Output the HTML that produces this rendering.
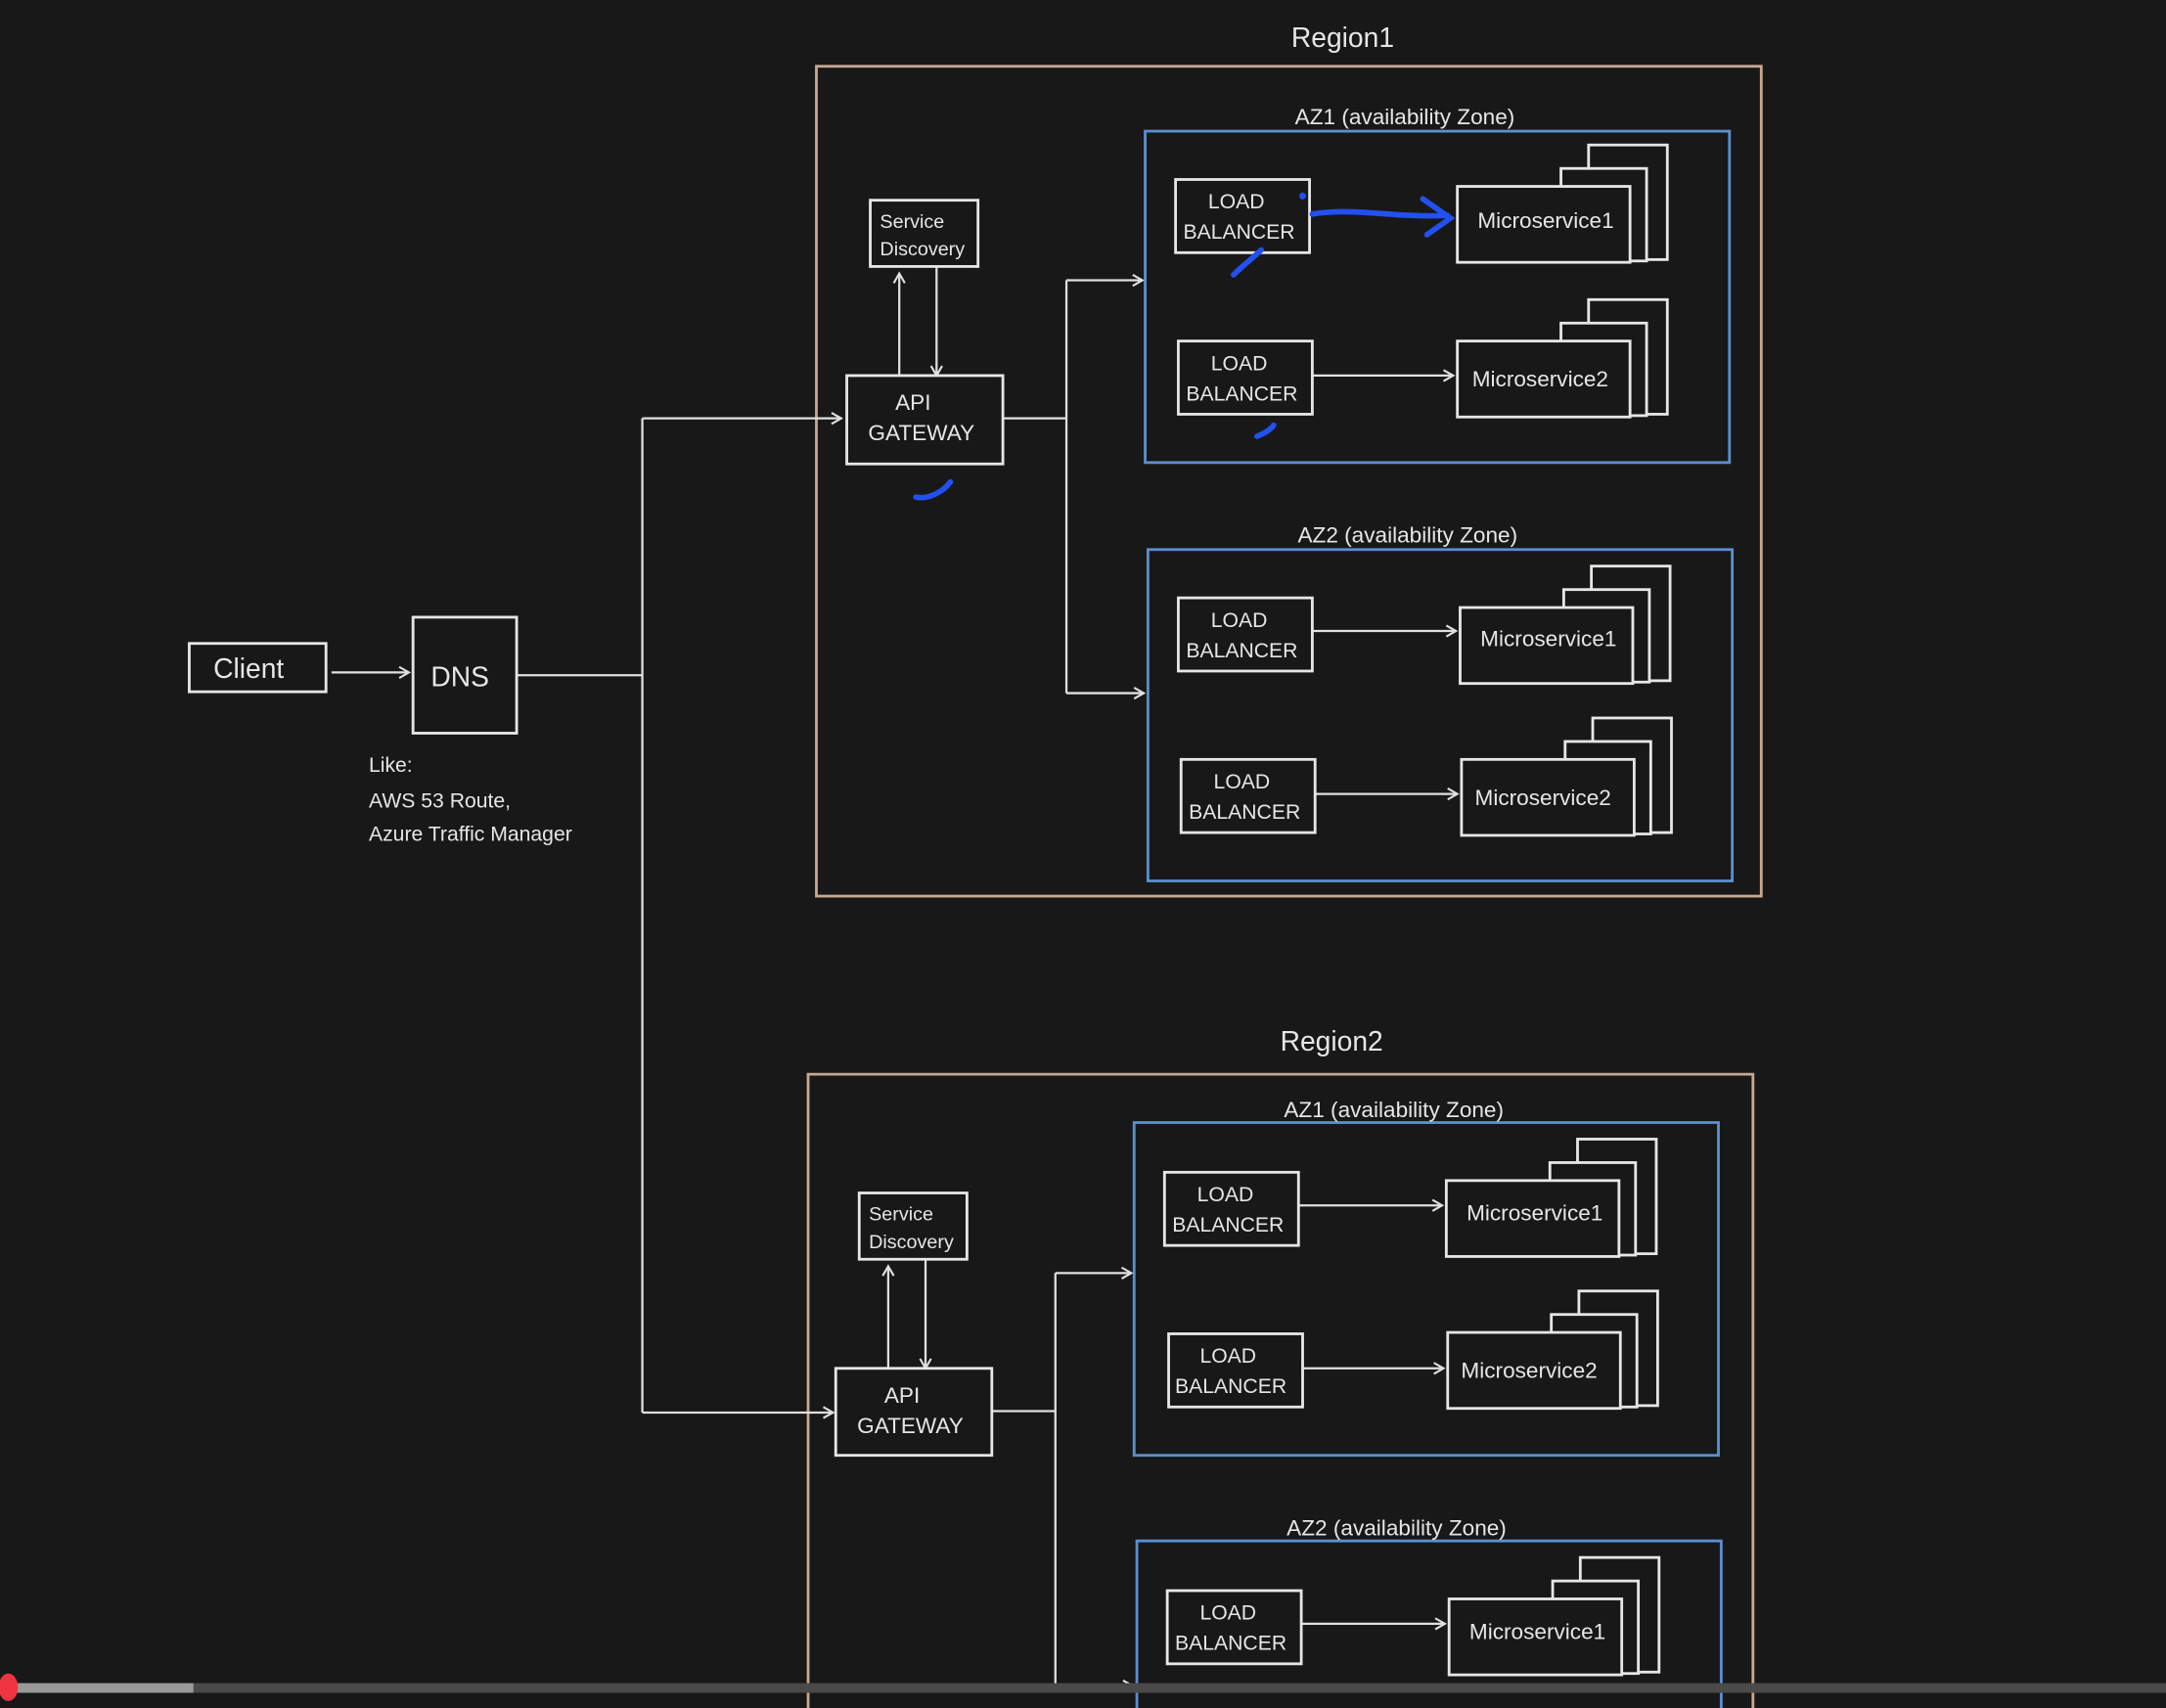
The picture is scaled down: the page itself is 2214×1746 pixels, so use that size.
<!DOCTYPE html>
<html><head><meta charset="utf-8"><style>
html,body{margin:0;padding:0;background:#181818;}
svg{display:block;}
text{font-family:"Liberation Sans",sans-serif;fill:#e6e6e6;}
</style></head><body>
<svg width="2214" height="1746" viewBox="0 0 1568 1237" preserveAspectRatio="none" xmlns="http://www.w3.org/2000/svg">
<defs>
<marker id="a" markerWidth="10" markerHeight="10" refX="8" refY="5" orient="auto" markerUnits="userSpaceOnUse">
<path d="M1,1 L8,5 L1,9" fill="none" stroke="#e0e0e0" stroke-width="1.5"/></marker>
<g id="ms">
<rect x="95" y="-30" width="57" height="83" fill="#181818" stroke="#e6e6e6" stroke-width="2"/>
<rect x="75" y="-13" width="62" height="67" fill="#181818" stroke="#e6e6e6" stroke-width="2"/>
<rect x="0" y="0" width="125" height="55" fill="#181818" stroke="#e6e6e6" stroke-width="2"/>
</g>
<rect id="lb" width="97" height="53" fill="#181818" stroke="#e6e6e6" stroke-width="2"/>
</defs>
<rect width="1568" height="1237" fill="#181818"/>

<g fill="none" stroke="#c9a78e" stroke-width="2">
<rect x="591" y="48" width="684" height="601"/>
<path d="M585,1240 V778 H1269 V1240"/>
</g>
<g fill="none" stroke="#5b8fcf" stroke-width="2">
<rect x="829" y="95" width="423" height="240"/>
<rect x="831" y="398" width="423" height="240"/>
<rect x="821" y="813" width="423" height="241"/>
<path d="M823,1240 V1116 H1246 V1240"/>
</g>

<text x="972" y="34" font-size="20" text-anchor="middle">Region1</text>
<text x="964" y="761" font-size="20" text-anchor="middle">Region2</text>
<g font-size="16" text-anchor="middle">
<text x="1017" y="90">AZ1 (availability Zone)</text>
<text x="1019" y="393">AZ2 (availability Zone)</text>
<text x="1009" y="809">AZ1 (availability Zone)</text>
<text x="1011" y="1112">AZ2 (availability Zone)</text>
</g>

<!-- connectors -->
<g fill="none" stroke="#e0e0e0" stroke-width="1.6">
<path d="M240,487 H296" marker-end="url(#a)"/>
<path d="M375,489 H465"/>
<path d="M465,303 V1023"/>
<path d="M465,303 H609" marker-end="url(#a)"/>
<path d="M465,1023 H603" marker-end="url(#a)"/>
<path d="M651,272 V198" marker-end="url(#a)"/>
<path d="M678,193 V272" marker-end="url(#a)"/>
<path d="M643,991 V917" marker-end="url(#a)"/>
<path d="M670,912 V991" marker-end="url(#a)"/>
<path d="M726,303 H772 M772,203 V502"/>
<path d="M772,203 H827" marker-end="url(#a)"/>
<path d="M772,502 H828" marker-end="url(#a)"/>
<path d="M718,1022 H764 M764,922 V1221"/>
<path d="M764,922 H819" marker-end="url(#a)"/>
<path d="M764,1221 H820" marker-end="url(#a)"/>
<path d="M950,272 H1052" marker-end="url(#a)"/>
<path d="M950,457 H1054" marker-end="url(#a)"/>
<path d="M952,575 H1055" marker-end="url(#a)"/>
<path d="M940,873 H1044" marker-end="url(#a)"/>
<path d="M943,991 H1045" marker-end="url(#a)"/>
<path d="M942,1176 H1046" marker-end="url(#a)"/>
</g>

<!-- boxes -->
<g fill="#181818" stroke="#e6e6e6" stroke-width="2">
<rect x="137" y="466" width="99" height="35"/>
<rect x="299" y="447" width="75" height="84"/>
<rect x="630" y="145" width="78" height="48"/>
<rect x="613" y="272" width="113" height="64"/>
<rect x="622" y="864" width="78" height="48"/>
<rect x="605" y="991" width="113" height="63"/>
</g>
<text x="180" y="491" font-size="20" text-anchor="middle">Client</text>
<text x="333" y="497" font-size="20" text-anchor="middle">DNS</text>
<g font-size="15">
<text x="267" y="559">Like:</text>
<text x="267" y="585">AWS 53 Route,</text>
<text x="267" y="609">Azure Traffic Manager</text>
</g>
<g font-size="14">
<text x="637" y="165">Service</text><text x="637" y="185">Discovery</text>
<text x="629" y="884">Service</text><text x="629" y="904">Discovery</text>
</g>
<g font-size="16" text-anchor="middle">
<text x="661" y="297">API</text><text x="667" y="319">GATEWAY</text>
<text x="653" y="1016">API</text><text x="659" y="1038">GATEWAY</text>
</g>

<!-- LBs -->
<use href="#lb" x="851" y="130"/><use href="#lb" x="853" y="247"/>
<use href="#lb" x="853" y="433"/><use href="#lb" x="855" y="550"/>
<use href="#lb" x="843" y="849"/><use href="#lb" x="846" y="966"/>
<use href="#lb" x="845" y="1152"/>
<g font-size="15" text-anchor="middle">
<text x="895" y="151">LOAD</text><text x="897" y="173">BALANCER</text>
<text x="897" y="268">LOAD</text><text x="899" y="290">BALANCER</text>
<text x="897" y="454">LOAD</text><text x="899" y="476">BALANCER</text>
<text x="899" y="571">LOAD</text><text x="901" y="593">BALANCER</text>
<text x="887" y="870">LOAD</text><text x="889" y="892">BALANCER</text>
<text x="889" y="987">LOAD</text><text x="891" y="1009">BALANCER</text>
<text x="889" y="1173">LOAD</text><text x="891" y="1195">BALANCER</text>
</g>

<!-- microservices -->
<use href="#ms" x="1055" y="135"/>
<use href="#ms" x="1055" y="247"/>
<use href="#ms" x="1057" y="440"/>
<use href="#ms" x="1058" y="550"/>
<use href="#ms" x="1047" y="855"/>
<use href="#ms" x="1048" y="965"/>
<use href="#ms" x="1049" y="1158"/>
<g font-size="16" text-anchor="middle">
<text x="1119" y="165">Microservice1</text>
<text x="1115" y="280">Microservice2</text>
<text x="1121" y="468">Microservice1</text>
<text x="1117" y="583">Microservice2</text>
<text x="1111" y="884">Microservice1</text>
<text x="1107" y="998">Microservice2</text>
<text x="1113" y="1187">Microservice1</text>
</g>

<!-- blue ink -->
<g fill="none" stroke="#2350f0" stroke-width="4" stroke-linecap="round">
<path d="M950,155 C980,150 1010,158 1048,156"/>
<path d="M1030,144 L1050,158 L1033,170"/>
<path d="M893,199 C900,192 908,186 913,181"/>
<path d="M910,316 C915,314 920,311 922,308"/>
<path d="M663,360 C672,362 683,356 688,349"/>
</g>
<circle cx="943" cy="142" r="2.5" fill="#2350f0"/>

<!-- progress bar -->
<rect x="0" y="1219" width="1568" height="7" fill="#4a4a4a"/>
<rect x="0" y="1219" width="140" height="7" fill="#9a9a9a"/>
<ellipse cx="6" cy="1222" rx="7" ry="10" fill="#ee3540"/>
</svg>
</body></html>
